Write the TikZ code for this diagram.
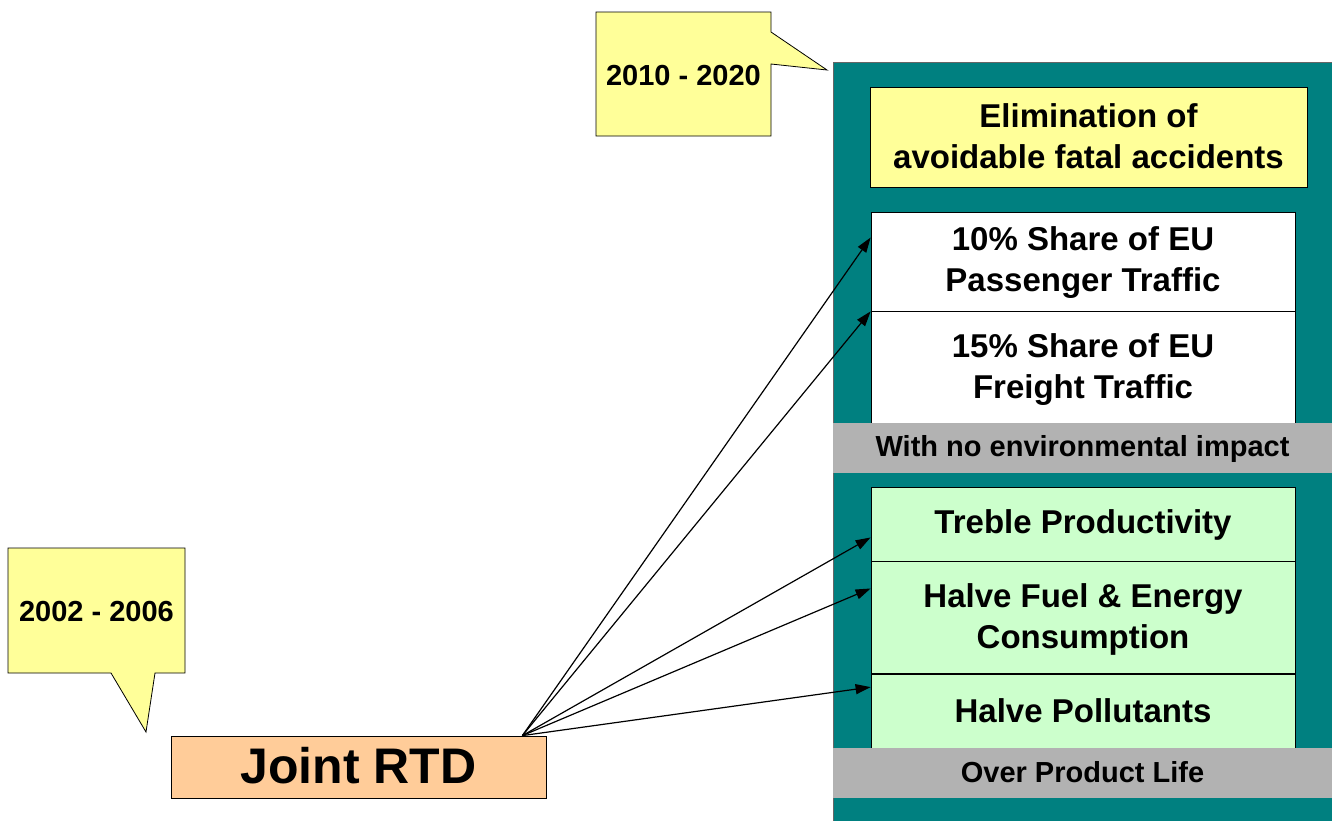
\documentclass[tikz,border=0pt]{standalone}
\usepackage{fontspec}
\setmainfont{Liberation Sans}
\usetikzlibrary{arrows.meta,positioning,calc}

\definecolor{tealbg}{HTML}{008080}
\definecolor{noteyellow}{HTML}{FFFF99}
\definecolor{goalgreen}{HTML}{CCFFCC}
\definecolor{bandgray}{HTML}{B2B2B2}
\definecolor{rtdorange}{HTML}{FFCC99}

% strut so that the capitals sit in the middle of each box
\newcommand\cs{\rule[-0.15em]{0pt}{0.95em}}

\tikzset{
    goal/.style = {draw = black, line width = 0.8pt, inner sep = 0pt, align = center,
        minimum width = 424pt, font = \fontsize{33}{41}\selectfont\bfseries},
    band/.style = {fill = bandgray, inner sep = 0pt, minimum width = 499pt,
        minimum height = 50pt, font = \fontsize{29}{34}\selectfont\bfseries},
    note/.style = {fill = noteyellow, draw = black, line width = 0.8pt, line join = miter},
    notetext/.style = {inner sep = 0pt, font = \fontsize{29}{34}\selectfont\bfseries},
    link/.style = {-{Triangle[length = 15pt, width = 10pt]}, line width = 1.2pt},
}

\begin{document}
\begin{tikzpicture}[x = 1pt, y = -1pt]
        \clip (0, 0) rectangle (1332, 820);
        \fill [white] (0, 0) rectangle (1332, 820);

        % callouts
        \draw [note] (596, 12) -- (771, 12) -- (771, 32) -- (827, 70) -- (771, 64)
            -- (771, 136) -- (596, 136) -- cycle;
        \node [notetext] (late) at (683.5, 76) {\cs 2010 - 2020};
        \draw [note] (8, 548) -- (185, 548) -- (185, 673) -- (155, 673) -- (146, 732)
            -- (111, 673) -- (8, 673) -- cycle;
        \node [notetext] (early) at (96.5, 612) {\cs 2002 - 2006};

        % goals
        \draw [fill = tealbg, draw = black!60] (833, 62) rectangle (1345, 835);
        \node [goal, fill = noteyellow, minimum width = 437pt, minimum height = 100pt]
            (elim) at (1088.5, 137) {\cs Elimination of\\avoidable fatal accidents\cs};
        \node [goal, fill = white, minimum height = 99pt]
            (pass) at (1083, 261.5) {\cs 10\% Share of EU\\Passenger Traffic\cs};
        \node [goal, fill = white, minimum height = 112pt, below = 0pt of pass]
            (freight) {\cs 15\% Share of EU\\Freight Traffic\cs};
        \node [band] (env) at (1082.5, 448) {\cs With no environmental impact};

        \node [goal, fill = goalgreen, minimum height = 74pt]
            (treble) at (1083, 524) {\cs Treble Productivity};
        \node [goal, fill = goalgreen, minimum height = 112pt, below = 0pt of treble]
            (fuel) {\cs Halve Fuel \& Energy\\Consumption\cs};
        \node [goal, fill = goalgreen, minimum height = 75pt, below = 0pt of fuel]
            (poll) {\cs Halve Pollutants};
        \node [band] (life) at (1082.5, 773) {\cs Over Product Life};

        % source
        \node [draw = black, line width = 0.8pt, fill = rtdorange, minimum width = 375pt,
            minimum height = 62pt, inner sep = 0pt, font = \fontsize{50}{60}\selectfont\bfseries]
            (rtd) at (358.5, 767) {\cs Joint RTD};
        \coordinate (hub) at ($(rtd.north east)!0.064!(rtd.north west)$);

        \foreach \goal/\pos in {pass/0.26, pass/1, treble/0.68, fuel/0.24, poll/0.17}
            \draw [link] (hub) -- ($(\goal.north west)!\pos!(\goal.south west)$);
    \end{tikzpicture}
\end{document}
